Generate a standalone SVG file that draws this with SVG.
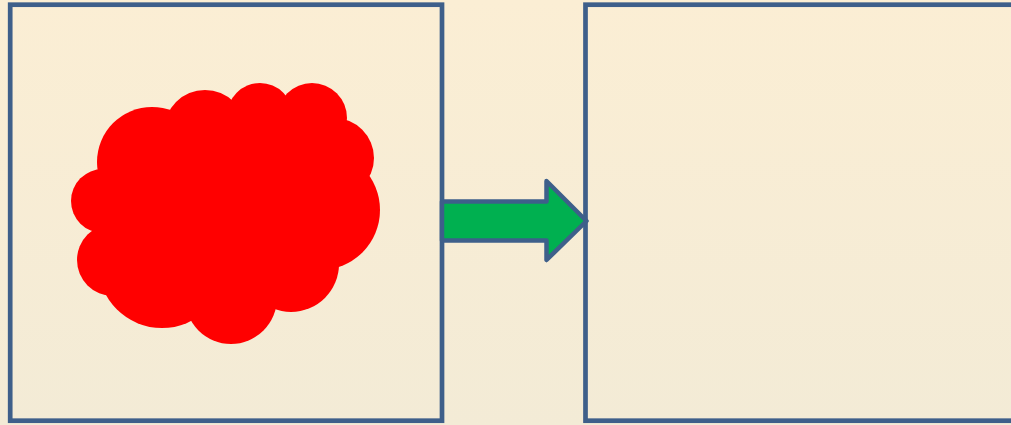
<svg xmlns="http://www.w3.org/2000/svg" width="1011" height="425" viewBox="0 0 1011 425">
<defs>
<linearGradient id="bg" x1="0" y1="0" x2="0" y2="1">
<stop offset="0" stop-color="#FBEED4"/>
<stop offset="1" stop-color="#F3EBD6"/>
</linearGradient>
<style>
.box{fill:none;stroke:#3E5F8A;stroke-width:4.7}
.cloud{fill:#FF0000}
.arrow{fill:#00B050;stroke:#3E5F8A;stroke-width:4.5;stroke-linejoin:round}
</style>
</defs>
<rect x="0" y="0" width="1011" height="425" fill="url(#bg)"/>
<g id="left-box">
<rect class="box" x="10.2" y="4.7" width="431.8" height="416"/>
<g class="cloud">
<ellipse cx="225" cy="215" rx="110" ry="95"/>
<circle cx="103" cy="201" r="32"/>
<circle cx="113" cy="260" r="36"/>
<circle cx="162" cy="264" r="64"/>
<circle cx="231" cy="298" r="46"/>
<circle cx="291" cy="264" r="48"/>
<circle cx="320" cy="210" r="60"/>
<circle cx="334" cy="158" r="40"/>
<circle cx="312" cy="118" r="35"/>
<circle cx="260" cy="116" r="33"/>
<circle cx="205" cy="131" r="41"/>
<circle cx="152" cy="162" r="55"/>
</g>
</g>
<g id="right-box">
<rect class="box" x="585.5" y="4.7" width="440" height="416"/>
</g>
<g id="connectors">
<path class="arrow" d="M442,201.5 L546.5,201.5 L546.5,181 L586.5,221 L546.5,260 L546.5,240.5 L442,240.5 Z"/>
</g>
</svg>
